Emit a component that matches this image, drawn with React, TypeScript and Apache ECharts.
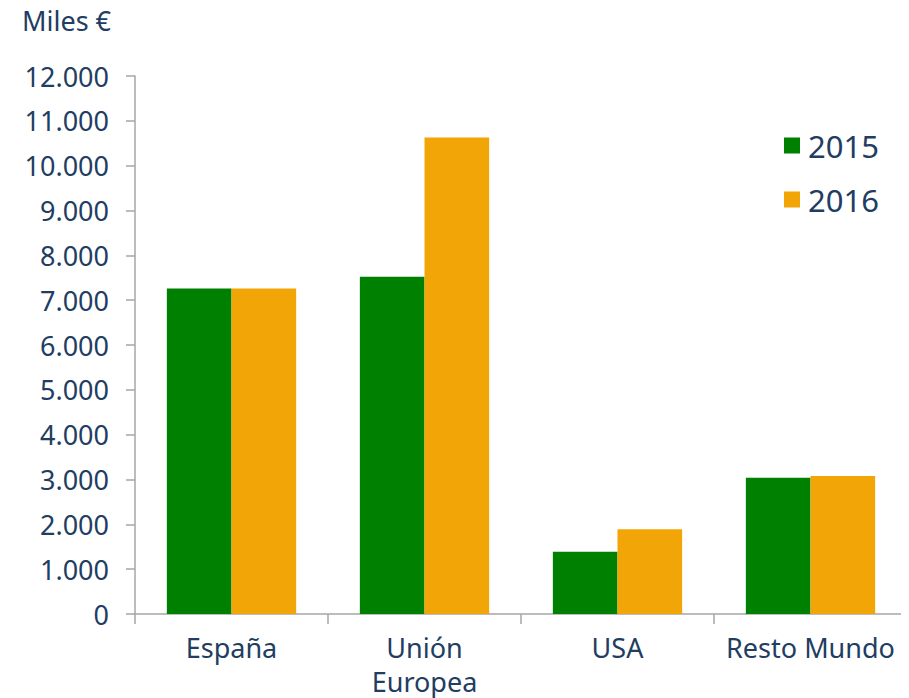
import React, { useEffect, useRef } from "react";
import * as echarts from "echarts";

const categories = ["España", "Unión\nEuropea", "USA", "Resto Mundo"];
const seriesNames = ["2015", "2016"];
const values2015 = [7260, 7520, 1390, 3040];
const values2016 = [7260, 10630, 1890, 3080];
const colors = ["#008000", "#F2A506"];
const textColor = "#223D62";
const fontFamily = "'Noto Sans', 'Open Sans', sans-serif";

const fmt = (v: number) => {
  const s = Math.round(v).toString();
  return s.replace(/\B(?=(\d{3})+(?!\d))/g, ".");
};

export default function App() {
  const ref = useRef<HTMLDivElement>(null);
  useEffect(() => {
    if (!ref.current) return;
    const chart = echarts.init(ref.current, undefined, { renderer: "svg" });
    chart.setOption({
      animation: false,
      backgroundColor: "#ffffff",
      textStyle: { fontFamily },
      title: {
        text: "Miles €",
        left: 17,
        top: 2,
        textStyle: { color: textColor, fontSize: 27, fontWeight: "normal", fontFamily },
      },
      legend: {
        orient: "vertical",
        left: 779,
        top: 125,
        itemWidth: 16,
        itemHeight: 16,
        itemGap: 23,
        icon: "rect",
        data: seriesNames,
        textStyle: {
          color: textColor,
          fontSize: 31,
          lineHeight: 30,
          fontFamily,
          padding: [0, 0, 0, 3],
        },
      },
      grid: { left: 135, right: 2, top: 76, bottom: 80, containLabel: false },
      xAxis: {
        type: "category",
        data: categories,
        axisLine: { show: true, lineStyle: { color: "#A6A6A6", width: 1.5 } },
        axisTick: { show: true, length: 10, lineStyle: { color: "#A6A6A6", width: 1.5 } },
        axisLabel: {
          color: textColor,
          fontSize: 27,
          lineHeight: 34,
          margin: 16,
          fontFamily,
          interval: 0,
        },
      },
      yAxis: {
        type: "value",
        min: 0,
        max: 12000,
        interval: 1000,
        splitLine: { show: false },
        axisLine: { show: true, lineStyle: { color: "#A6A6A6", width: 1.5 } },
        axisTick: { show: true, length: 9, lineStyle: { color: "#A6A6A6", width: 1.5 } },
        axisLabel: {
          color: textColor,
          fontSize: 27,
          margin: 26,
          fontFamily,
          formatter: (v: number) => fmt(v),
        },
      },
      series: [
        {
          name: seriesNames[0],
          type: "bar",
          data: values2015,
          itemStyle: { color: colors[0] },
          barGap: "0%",
          barCategoryGap: "33%",
        },
        {
          name: seriesNames[1],
          type: "bar",
          data: values2016,
          itemStyle: { color: colors[1] },
          barGap: "0%",
          barCategoryGap: "33%",
        },
      ],
    });
    return () => chart.dispose();
  }, []);
  return <div ref={ref} style={{ width: 909, height: 698, marginLeft: -8, marginTop: -8 }} />;
}
